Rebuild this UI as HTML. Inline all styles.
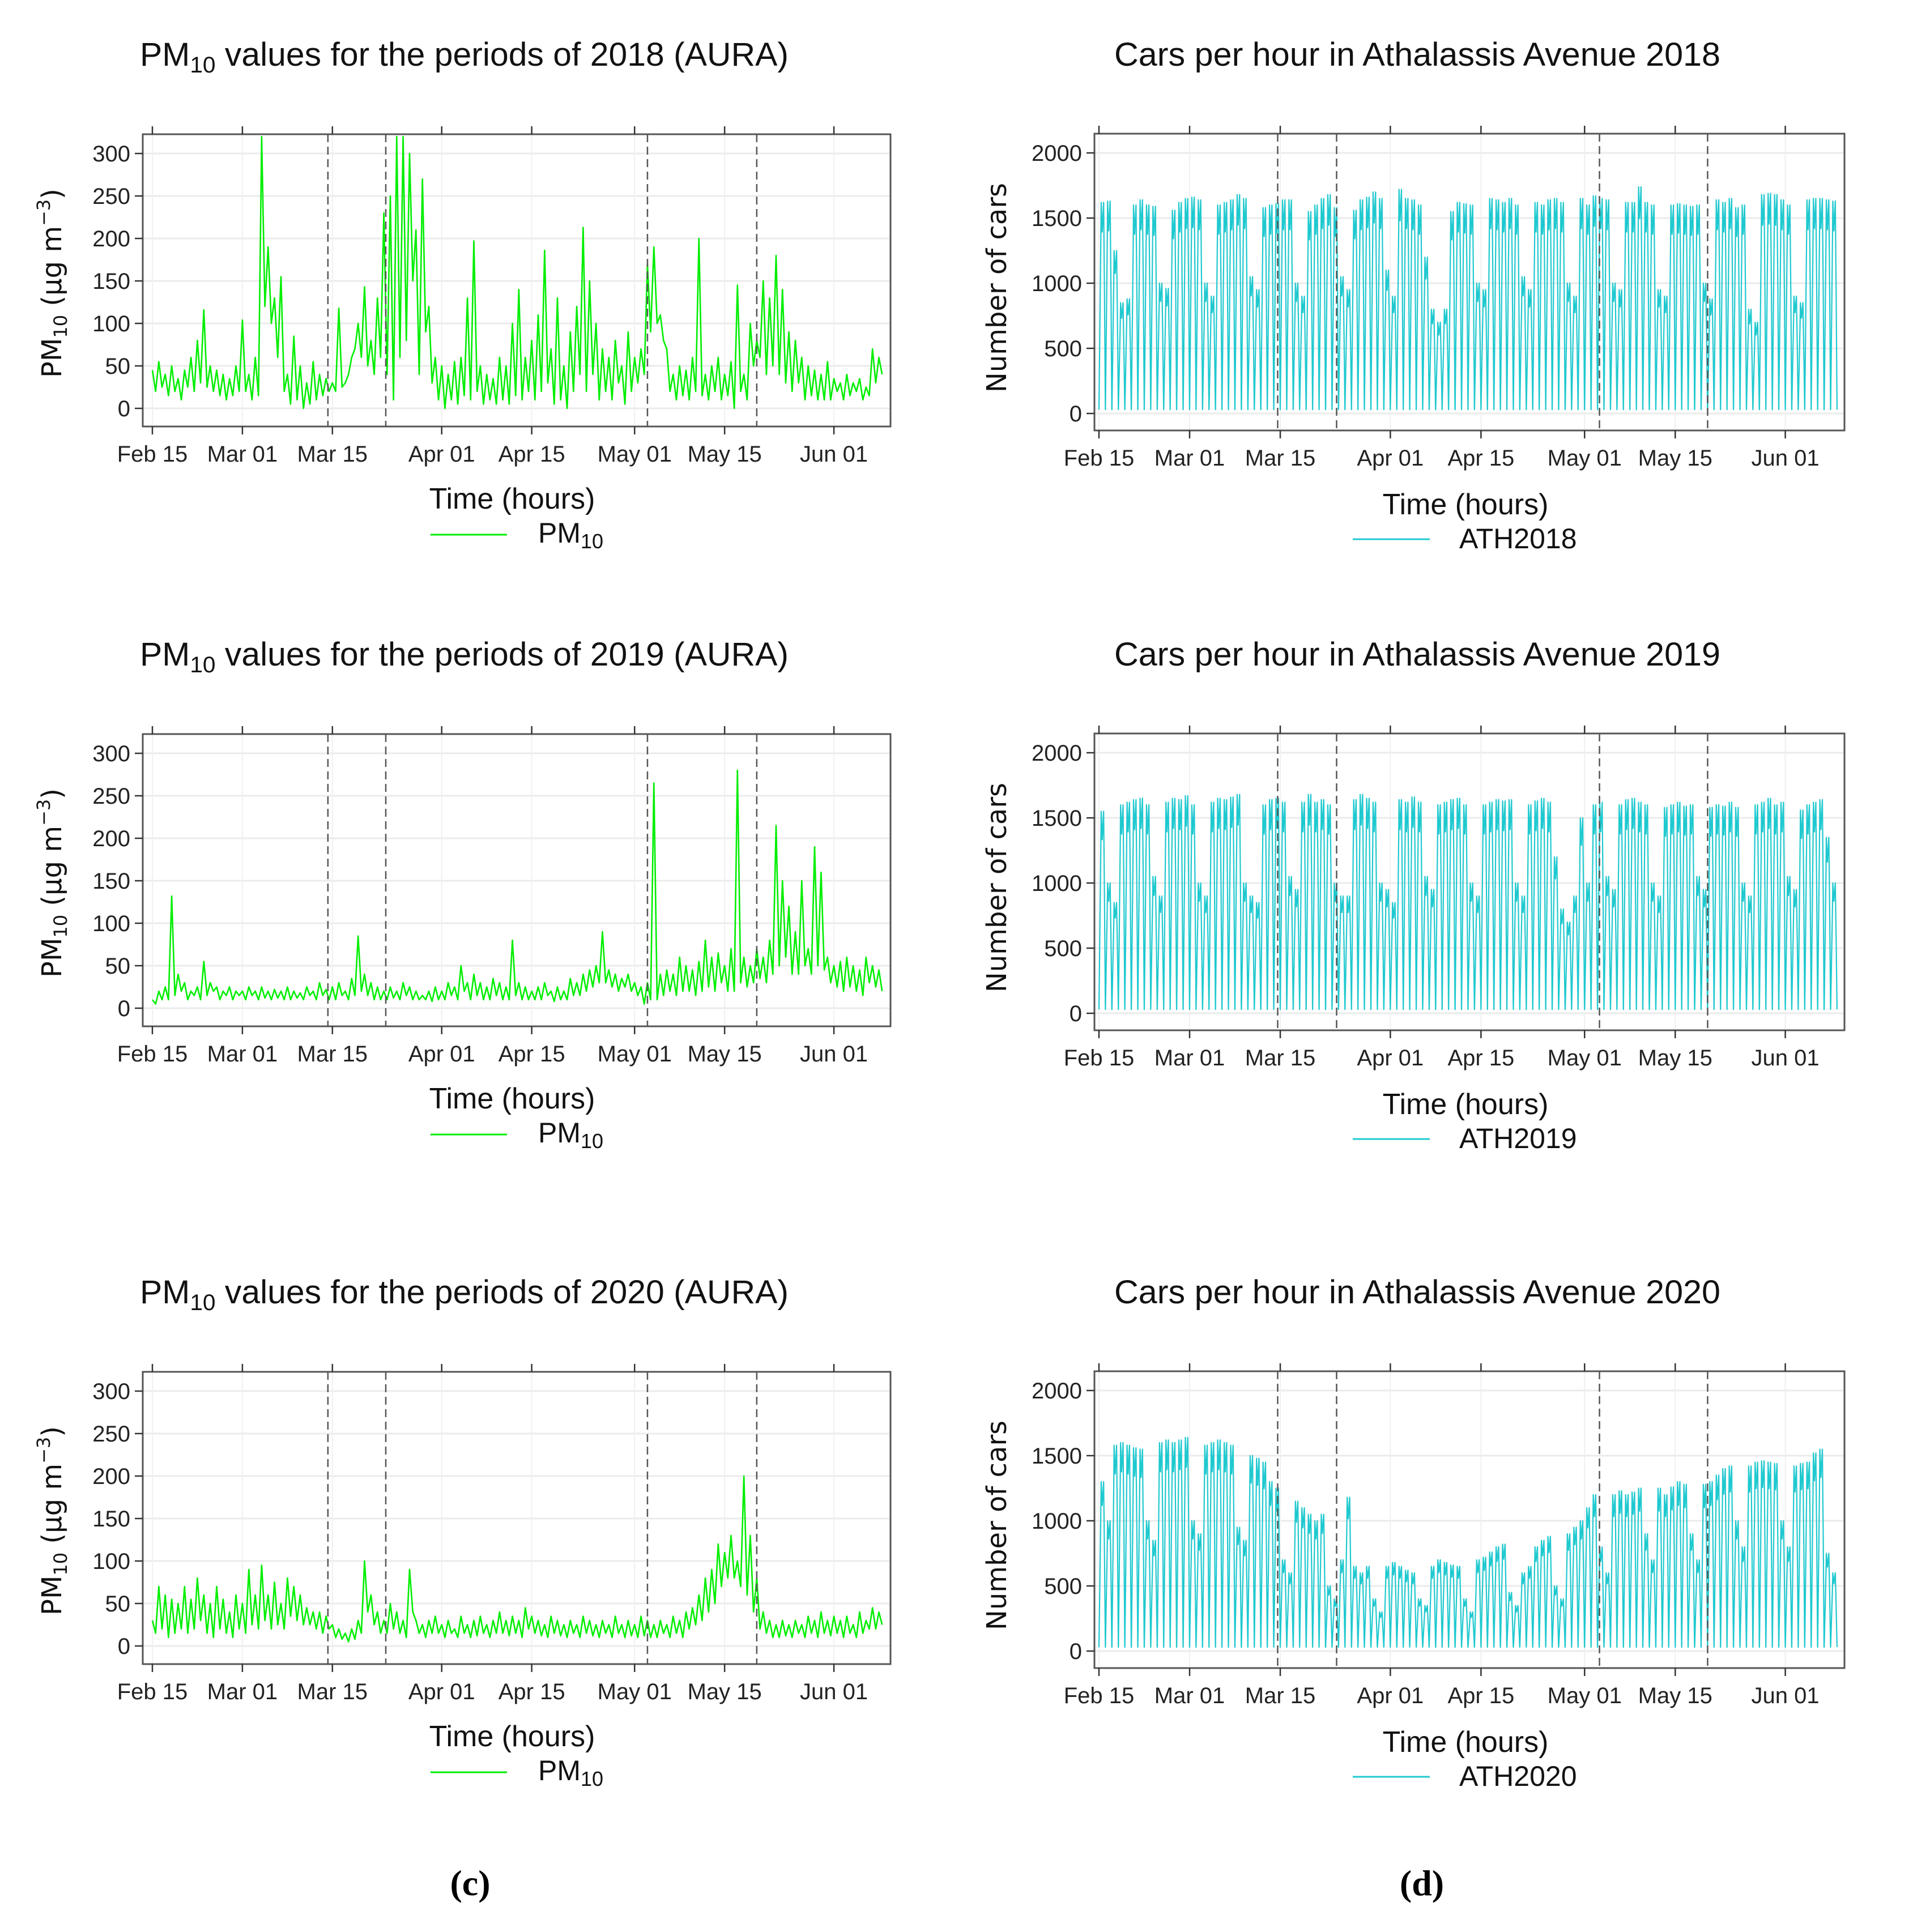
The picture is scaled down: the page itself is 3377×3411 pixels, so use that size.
<!DOCTYPE html>
<html><head><meta charset="utf-8">
<style>
html,body{margin:0;padding:0;background:#fff;}
svg{display:block;font-family:"Liberation Sans",sans-serif;}
</style></head>
<body>
<svg id="fig" width="3377" height="3411" viewBox="0 0 3377 3411" xmlns="http://www.w3.org/2000/svg">
<rect x="0" y="0" width="3377" height="3411" fill="#fff"/>
<text x="830" y="3346" text-anchor="middle" font-family="Liberation Serif,serif" font-weight="bold" font-size="64">(c)</text>
<text x="2510" y="3346" text-anchor="middle" font-family="Liberation Serif,serif" font-weight="bold" font-size="64">(d)</text>
</svg>
<script>
const xTickDays = [0,14,28,45,59,75,89,106];
const xTickLabels = ["Feb 15","Mar 01","Mar 15","Apr 01","Apr 15","May 01","May 15","Jun 01"];
const periodLines = [27.3,36.3,77,94];
const pmTicks = [0,50,100,150,200,250,300];
const carTicks = [0,500,1000,1500,2000];
const years = ["2018","2019","2020"];

// PM10 values, two readings per day starting Feb 15
const pm2018 = [45,20,55,25,40,15,50,20,35,10,45,25,60,20,80,30,116,25,50,20,45,15,40,10,35,15,50,20,
104,20,40,10,60,15,320,120,190,100,130,60,155,20,
40,5,85,10,50,0,30,5,55,10,40,15,35,20,
30,20,118,25,30,40,60,70,100,60,143,50,80,40,
130,60,230,40,250,10,320,60,320,80,300,150,210,40,270,90,120,30,60,10,
50,0,40,10,55,5,60,15,130,10,197,20,50,5,40,10,35,5,60,10,50,5,100,15,140,10,60,20,
80,10,110,20,186,30,70,5,130,10,50,0,90,20,120,40,213,20,150,40,100,10,70,20,60,10,80,30,50,5,90,20,60,30,
70,40,170,90,190,100,110,80,70,20,40,10,50,15,45,10,60,20,200,15,40,10,50,20,60,10,40,15,
55,0,145,20,40,10,100,50,80,60,150,40,130,50,180,40,140,30,90,20,80,30,60,10,50,15,45,10,40,10,55,10,35,20,
30,10,40,15,30,20,35,10,25,15,70,30,60,40];
const pm2019 = [10,5,20,10,25,10,132,15,40,20,30,10,20,15,25,10,55,15,30,20,25,10,20,15,25,10,20,15,
20,10,25,15,20,10,25,12,20,10,22,12,20,10,25,10,20,12,18,10,25,15,20,10,30,15,22,10,
25,10,30,15,20,10,35,15,85,20,40,15,30,10,25,10,20,10,25,12,20,10,30,15,25,10,20,10,15,10,20,8,25,10,
20,10,30,15,25,10,50,20,30,10,40,15,30,10,25,10,35,15,30,10,25,10,80,15,30,10,25,10,
20,10,25,10,30,15,20,8,25,10,20,10,35,15,30,15,40,20,45,25,50,30,90,30,45,25,40,20,35,25,40,20,30,15,
25,5,30,10,265,10,40,15,45,20,40,15,60,20,50,20,45,15,55,20,80,25,60,20,65,30,50,20,
70,20,280,30,60,25,50,30,70,35,60,30,80,40,215,50,150,60,120,40,90,40,150,50,70,40,190,50,160,45,60,30,50,25,
55,20,60,25,50,20,45,15,60,30,50,25,45,20];
const pm2020 = [30,15,70,20,60,10,55,15,50,20,70,15,55,20,80,30,60,15,50,10,70,20,55,15,40,10,60,20,
50,15,90,25,60,20,95,30,60,20,75,25,50,20,80,35,70,30,60,25,45,25,40,20,40,15,35,20,
25,10,20,8,15,5,20,8,30,15,100,40,60,25,40,15,30,15,50,20,40,15,30,10,90,40,30,15,25,10,30,15,35,15,
25,10,30,15,20,10,35,15,25,10,30,12,35,15,25,10,30,15,40,15,30,12,35,15,30,10,45,20,
35,15,30,12,25,10,35,15,30,12,25,10,30,15,25,10,35,15,30,12,25,10,30,15,25,10,35,15,25,10,30,12,25,10,
35,12,30,10,25,10,30,15,25,10,35,15,30,10,40,20,45,25,60,30,80,40,90,50,120,70,110,80,
130,80,100,70,200,60,130,40,80,20,40,15,30,10,25,10,30,12,25,10,30,15,25,10,35,15,30,10,40,15,30,12,35,15,
30,10,35,15,25,10,40,15,30,20,45,20,40,25];

// Daily peak cars per hour, starting Feb 15
const cars2018 = [1620,1630,1250,850,880,1600,1640,1600,1590,1000,960,1560,1620,1650,
1660,1640,1000,900,1600,1620,1640,1680,1650,1050,950,1580,1600,1610,
1640,1640,1000,900,1550,1600,1650,1680,1580,1050,950,1560,1640,1660,
1700,1650,1100,900,1720,1650,1640,1600,1200,800,700,800,1550,1620,
1610,1600,1000,950,1650,1640,1620,1650,1600,1050,950,1620,1600,1640,
1650,1620,1000,900,1650,1600,1670,1650,1640,1000,950,1620,1620,1740,
1620,1600,950,900,1600,1610,1600,1590,1600,1000,880,1640,1620,1650,
1580,1600,800,700,1680,1690,1680,1640,1600,900,850,1640,1650,1650,1640,1630];
const cars2019 = [1550,1000,850,1600,1620,1640,1650,1600,1050,900,1620,1650,1640,1670,
1600,1000,900,1620,1650,1640,1660,1680,1000,900,850,1600,1640,1650,
1620,1050,950,1620,1680,1620,1640,1600,1000,900,900,1640,1680,1650,
1620,1000,950,850,1640,1620,1660,1620,1050,950,1600,1620,1640,1650,
1600,1000,900,1600,1620,1640,1630,1640,1000,900,1600,1630,1650,1620,
1200,800,700,900,1500,1000,1600,1620,1050,950,1600,1640,1650,1620,
1600,1000,900,1580,1600,1620,1590,1600,1050,950,1580,1600,1590,1620,
1580,1000,900,1600,1620,1650,1600,1620,1050,950,1560,1600,1620,1640,1350,1000];
const cars2020 = [1300,1000,1580,1600,1580,1560,1550,1000,850,1600,1620,1600,1620,1640,
1000,900,1580,1600,1620,1600,1580,950,850,1500,1480,1450,1300,1250,
700,600,1150,1100,1050,1000,1050,500,400,700,1180,650,600,650,
400,300,650,680,650,620,600,400,350,650,700,680,660,650,
400,300,700,720,760,800,820,450,350,600,650,800,850,880,
500,400,900,950,1000,1100,1200,800,600,1200,1230,1200,1220,1250,
900,700,1250,1200,1260,1300,1280,900,700,1280,1300,1350,1400,1420,
1000,800,1420,1450,1460,1450,1440,1000,800,1420,1440,1450,1520,1550,750,600];
const carNightLow = 30;

const NS = "http://www.w3.org/2000/svg";
const svg = document.getElementById("fig");
function mk(tag, attrs, parent){const e=document.createElementNS(NS,tag);for(const k in attrs)e.setAttribute(k,attrs[k]);(parent||svg).appendChild(e);return e;}

const pmSeries=[pm2018,pm2019,pm2020];
const carSeries=[cars2018,cars2019,cars2020];
const rowOff=[0,1059,2185];

function panel(cfg){
  const g=mk("g",{});
  
  
  const xs=d=>cfg.x0+cfg.dx*d;
  const ys=v=>cfg.yZero-(cfg.yZero-cfg.yTop)*v/cfg.yTopVal;
  cfg.ticks.forEach(t=>{const l=mk("line",{x1:cfg.bx1,x2:cfg.bx2,y1:ys(t),y2:ys(t),stroke:"#ebebeb","stroke-width":3},g);
    });
  xTickDays.forEach(d=>{const l=mk("line",{x1:xs(d),x2:xs(d),y1:cfg.by1,y2:cfg.by2,stroke:"#f0f0f0","stroke-width":2},g);
    });
  let pts=[];
  if(cfg.kind==="pm"){
    cfg.data.forEach((v,i)=>{pts.push(xs(i*0.5).toFixed(1)+","+ys(v).toFixed(1));});
  } else {
    cfg.data.forEach((p,i)=>{
      const shape=[[0,carNightLow],[0.28,p*0.8],[0.34,p],[0.5,p*0.86],[0.72,p],[0.86,p*0.55],[0.99,carNightLow]];
      shape.forEach(s=>pts.push(xs(i+s[0]).toFixed(1)+","+ys(s[1]).toFixed(1)));
    });
  }
  const line=mk("polyline",{points:pts.join(" "),fill:"none",stroke:cfg.color,"stroke-width":cfg.kind==="pm"?2.6:2.2,"stroke-linejoin":"round"},g);
  
  
  cfg.periods.forEach(d=>{const l=mk("line",{x1:xs(d),x2:xs(d),y1:cfg.by1,y2:cfg.by2,stroke:"#555","stroke-width":2.5,"stroke-dasharray":"14,8"},g);
    });
  const box=mk("rect",{x:cfg.bx1,y:cfg.by1,width:cfg.bx2-cfg.bx1,height:cfg.by2-cfg.by1,fill:"none",stroke:"#555","stroke-width":3},g);
  
  cfg.ticks.forEach(t=>{mk("line",{x1:cfg.bx1-14,x2:cfg.bx1,y1:ys(t),y2:ys(t),stroke:"#333","stroke-width":2.5},g);
    const tx=mk("text",{x:cfg.bx1-22,y:ys(t)+14,"text-anchor":"end","font-size":40,fill:"#222"},g);
    tx.textContent=t;});
  xTickDays.forEach((d,i)=>{
    mk("line",{x1:xs(d),x2:xs(d),y1:cfg.by2,y2:cfg.by2+14,stroke:"#333","stroke-width":2.5},g);
    mk("line",{x1:xs(d),x2:xs(d),y1:cfg.by1-14,y2:cfg.by1,stroke:"#333","stroke-width":2.5},g);
    const tx=mk("text",{x:xs(d),y:cfg.by2+62,"text-anchor":"middle","font-size":40,fill:"#222"},g);
    tx.textContent=xTickLabels[i];});
  return g;
}

const periodsRight=[27.6,36.7,77.3,94];
for(let r=0;r<3;r++){
  const o=rowOff[r];
  panel({name:"pm10-"+years[r]+"-chart",kind:"pm",data:pmSeries[r],color:"#00ee00",seriesName:"pm10-line",periods:periodLines,
    x0:269,dx:11.35,yZero:721+o,yTop:271+o,yTopVal:300,ticks:pmTicks,bx1:252,bx2:1572,by1:237+o,by2:753+o});
  let t=mk("text",{x:247,y:116+o,"font-size":58,fill:"#111",textLength:"1145",lengthAdjust:"spacingAndGlyphs"});
  
  t.innerHTML='PM<tspan font-size="40" dy="12">10</tspan><tspan dy="-12"> values for the periods of '+years[r]+' (AURA)</tspan>';
  t=mk("text",{x:904,y:898+o,"text-anchor":"middle","font-size":52,fill:"#111"});t.textContent="Time (hours)";
  
  t=mk("line",{x1:760,x2:895,y1:944+o,y2:944+o,stroke:"#00ee00","stroke-width":3});
  
  t=mk("text",{x:950,y:958+o,"font-size":50,fill:"#111"});t.innerHTML='PM<tspan font-size="36" dy="10">10</tspan>';
  
  t=mk("text",{x:0,y:0,"text-anchor":"middle","font-family":"DejaVu Sans,sans-serif","font-size":48,fill:"#111",transform:"translate(108,"+(500+o)+") rotate(-90)"});
  t.innerHTML='PM<tspan font-size="32" dy="10">10</tspan><tspan dy="-10"> (µg m</tspan><tspan font-size="32" dy="-20">−3</tspan><tspan dy="20">)</tspan>';
  

  panel({name:"cars-"+years[r]+"-chart",kind:"car",data:carSeries[r],color:"#1fc9cf",seriesName:"cars-line",periods:periodsRight,
    x0:1940,dx:11.43,yZero:730+o,yTop:270+o,yTopVal:2000,ticks:carTicks,bx1:1932,bx2:3256,by1:236+o,by2:760+o});
  t=mk("text",{x:1967,y:116+o,"font-size":58,fill:"#111",textLength:"1070",lengthAdjust:"spacingAndGlyphs"});
  t.textContent="Cars per hour in Athalassis Avenue "+years[r];
  
  t=mk("text",{x:2587,y:908+o,"text-anchor":"middle","font-size":52,fill:"#111"});t.textContent="Time (hours)";
  
  t=mk("line",{x1:2388,x2:2524,y1:952+o,y2:952+o,stroke:"#1fc9cf","stroke-width":3});
  
  t=mk("text",{x:2576,y:968+o,"font-size":50,fill:"#111"});t.textContent="ATH"+years[r];
  
  t=mk("text",{x:0,y:0,"text-anchor":"middle","font-family":"DejaVu Sans,sans-serif","font-size":48,fill:"#111",transform:"translate(1776,"+(508+o)+") rotate(-90)"});
  t.textContent="Number of cars";
  
}
</script>
</body></html>
